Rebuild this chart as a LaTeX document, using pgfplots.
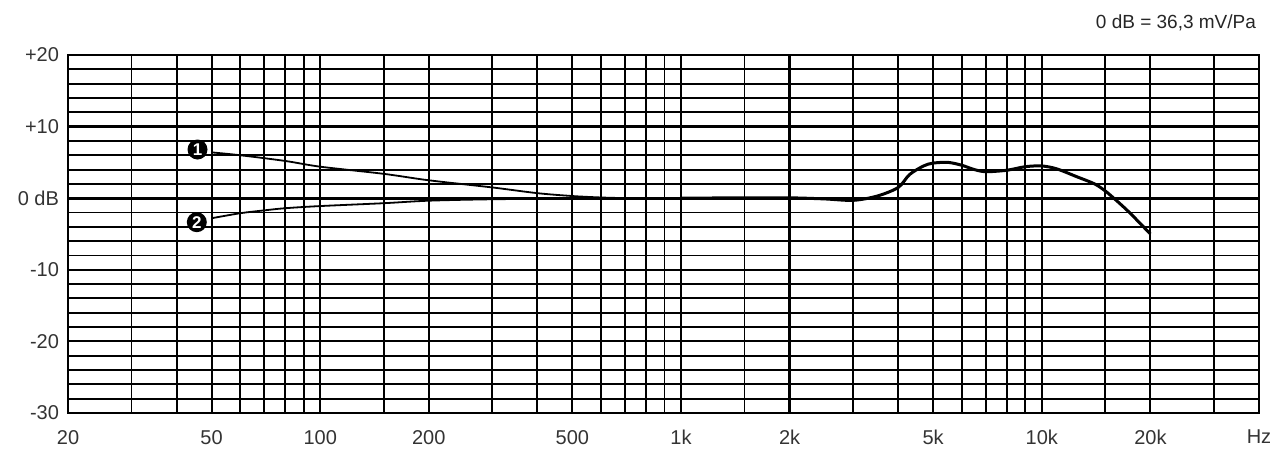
\documentclass[border=0pt]{standalone}
\usepackage{pgfplots}
\pgfplotsset{compat=1.18}
\usepackage{fontspec}
\setmainfont{Liberation Sans}

\begin{document}
\begin{tikzpicture}
\begin{axis}[
    name=ax,
    scale only axis,
    width=595.5pt, height=179pt,
    xmode=log,
    xmin=20, xmax=40000,
    ymin=-30, ymax=20,
    xtick={20,50,100,200,500,1000,2000,5000,10000,20000,40000},
    xticklabels={20,50,100,200,500,1k,2k,5k,10k,20k,Hz},
    minor xtick={30,40,60,70,80,90,150,300,400,600,700,800,900,1500,3000,4000,6000,7000,8000,9000,15000,30000},
    ytick={-30,-20,-10,0,10,20},
    yticklabels={-30,-20,-10,0 dB,+10,+20},
    minor ytick={-28,-26,-24,-22,-18,-16,-14,-12,-8,-6,-4,-2,2,4,6,8,12,14,16,18},
    extra x ticks={2000},
    extra x tick labels={},
    extra y ticks={0,10},
    extra y tick labels={},
    extra tick style={grid style={line width=1.5pt}},
    xmajorgrids, xminorgrids, ymajorgrids, yminorgrids,
    grid style={black, line width=0.95pt},
    minor grid style={black, line width=0.95pt},
    major tick length=0pt, minor tick length=0pt,
    axis line style={black, line width=1.3pt},
    ticklabel style={font=\fontsize{10}{11}\selectfont, text=black!80},
    xticklabel style={yshift=-5pt},
    yticklabel style={xshift=-1pt},
    clip=false,
]
% curve 1 (low end)
\addplot[black, line width=0.9pt, smooth] coordinates {
    (50,6.4) (60,6.0) (80,5.2) (100,4.4) (150,3.4) (200,2.5) (300,1.5)
    (400,0.7) (500,0.3) (600,0.1) (700,0.02) (1000,0)
};
% curve 2 (low end)
\addplot[black, line width=0.9pt, smooth] coordinates {
    (50,-2.8) (60,-2.1) (70,-1.7) (80,-1.4) (100,-1.1) (150,-0.7)
    (200,-0.35) (300,-0.15) (500,-0.05) (700,0) (1000,0)
};
% common high end
\addplot[black, line width=1.5pt, smooth] coordinates {
    (1000,0) (1500,0.05) (2000,0.05) (2500,-0.1) (3000,-0.3) (3500,0.3)
    (4000,1.5) (4300,3.3) (4700,4.5) (5000,4.9) (5500,5.0) (6000,4.6)
    (6500,4.0) (7000,3.7) (8000,3.9) (9000,4.4) (10000,4.5) (11000,4.1)
    (12500,3.0) (14000,2.0) (15000,1.0) (16000,-0.2) (17500,-2.0) (20000,-5.0)
};
\node[circle, fill=black, text=white, inner sep=0.5pt, minimum size=10pt,
      font=\fontsize{8.5}{9}\selectfont\bfseries] at (axis cs:45.7,6.8) {1};
\node[circle, fill=black, text=white, inner sep=0.5pt, minimum size=10pt,
      font=\fontsize{8.5}{9}\selectfont\bfseries] at (axis cs:45.5,-3.35) {2};
\node[anchor=east, font=\fontsize{9.5}{10}\selectfont, text=black!85]
    at ([xshift=2pt,yshift=16pt]rel axis cs:1,1) {0 dB = 36,3 mV/Pa};
\end{axis}
\pgfresetboundingbox
\path ([xshift=-34pt,yshift=-19pt]ax.south west) rectangle ([xshift=5.5pt,yshift=27.5pt]ax.north east);
\end{tikzpicture}
\end{document}
